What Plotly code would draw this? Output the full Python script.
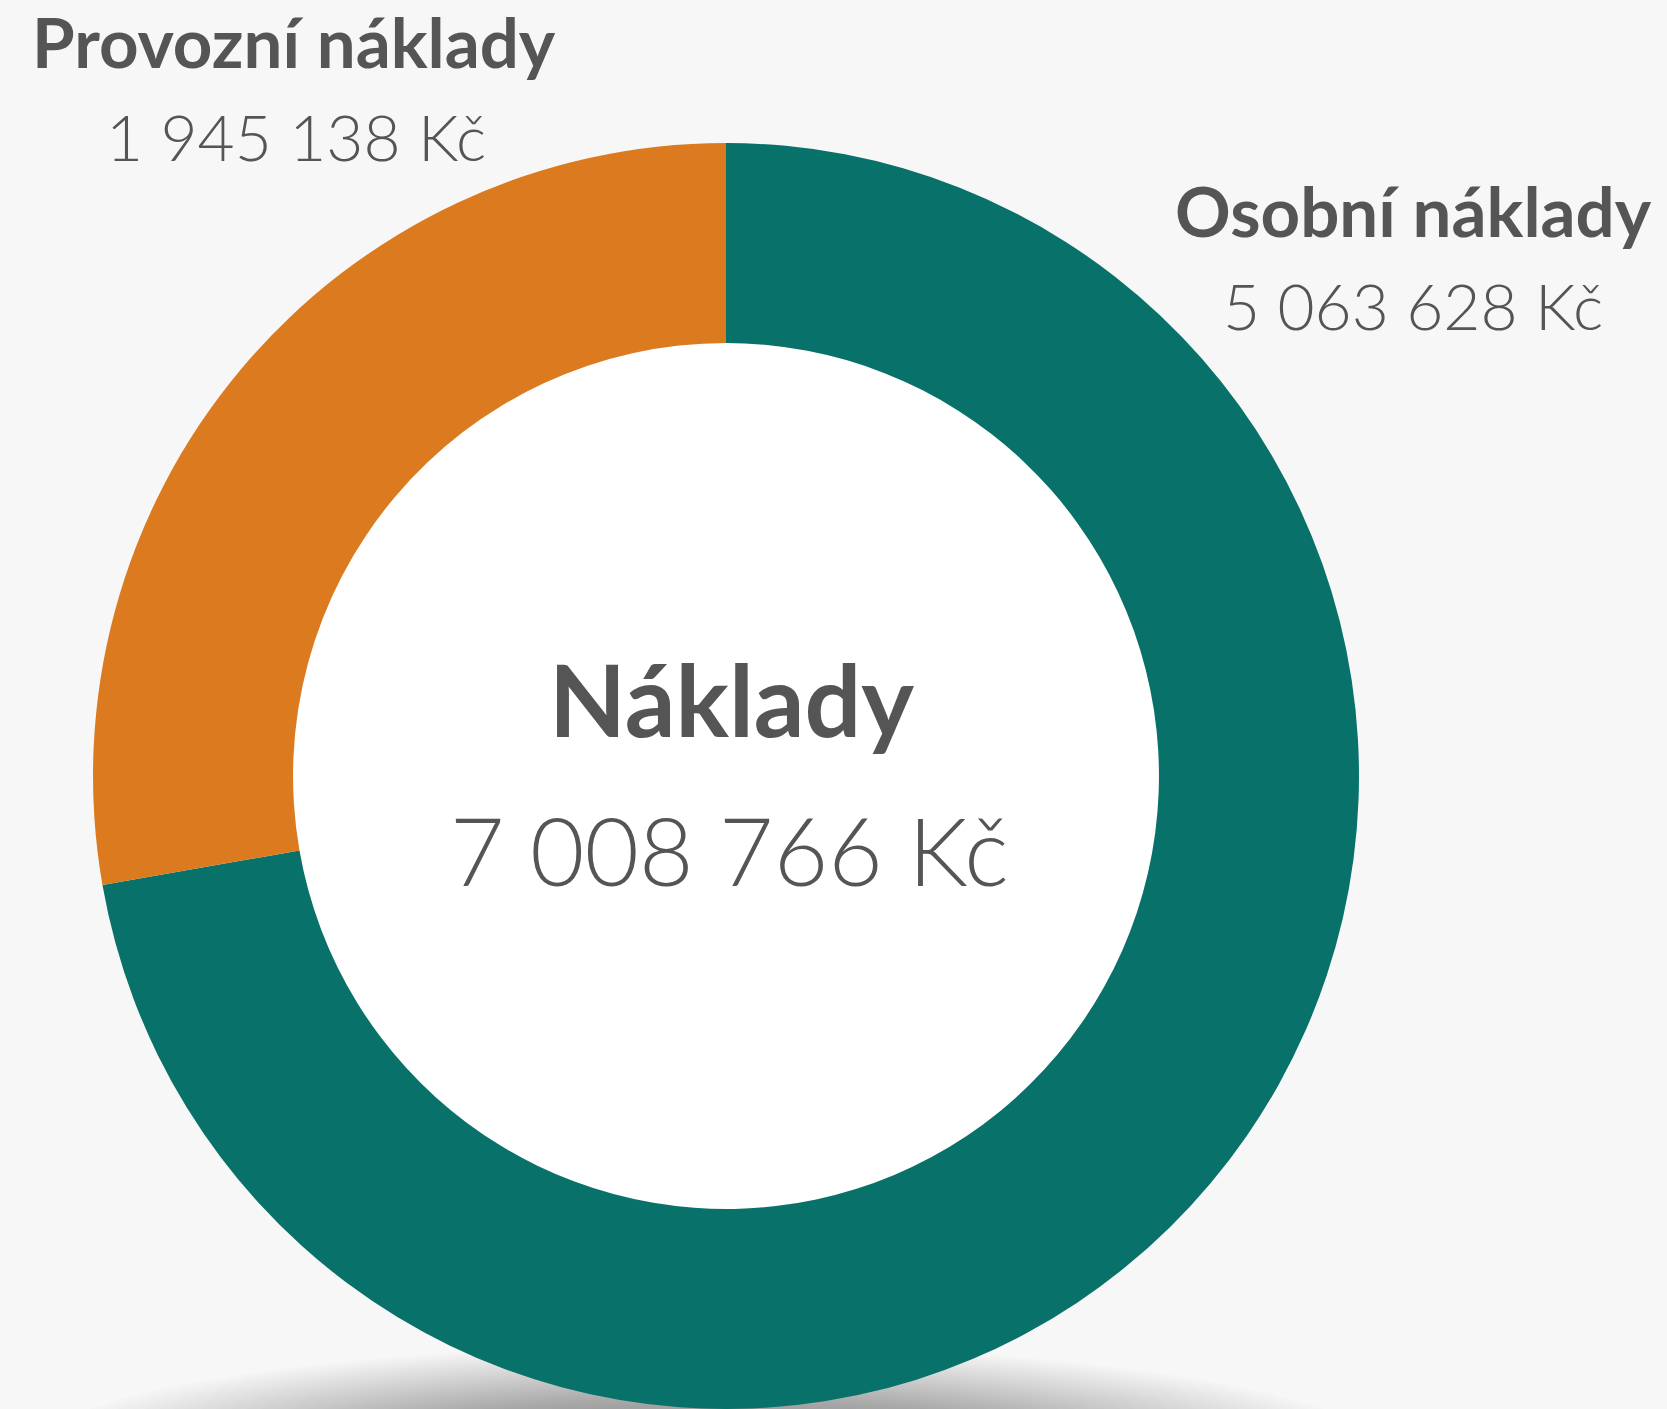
import plotly.graph_objects as go

# ---- data ----
labels = ["Osobní náklady", "Provozní náklady"]
values = [5063628, 1945138]
colors = ["#08726a", "#dc7a20"]
center_title = "Náklady"

def fmt(v):
    return f"{v:,}".replace(",", " ") + " Kč"

total = sum(values)

# ---- geometry (pixels) ----
W, H = 1667, 1409
cx, cy, R = 726, 776, 633
hole = 0.684

def px(x):
    return x / W

def py(y):
    return 1 - y / H

fig = go.Figure()
fig.add_trace(go.Pie(
    labels=labels, values=values, sort=False, direction="clockwise",
    rotation=0, hole=hole, marker=dict(colors=colors, line=dict(width=0)),
    textinfo="none", hoverinfo="label+value", showlegend=False,
    domain=dict(x=[px(cx - R), px(cx + R)], y=[0, py(cy - R)]),
))

shapes = []
# soft shadow below donut (stacked translucent ellipses)
n = 30
for i in range(n):
    t = i / (n - 1)
    rx = 680 - 360 * t
    ry = 110 - 60 * t
    scy = 1455
    shapes.append(dict(type="circle", xref="paper", yref="paper", layer="below",
                       x0=px(cx - 20 - rx), x1=px(cx - 20 + rx), y0=py(scy + ry), y1=py(scy - ry),
                       fillcolor="rgba(0,0,0,0.011)", line=dict(width=0)))
# white hole
rh = R * hole
shapes.append(dict(type="circle", xref="paper", yref="paper", layer="below",
                   x0=px(cx - rh), x1=px(cx + rh), y0=py(cy + rh), y1=py(cy - rh),
                   fillcolor="white", line=dict(width=0)))

TXT = "#555555"
FONT = "Lato"
ann = []
def add(text, x, y, size, weight):
    ann.append(dict(text=text, x=px(x), y=py(y), xref="paper", yref="paper",
                    xanchor="center", yanchor="middle", showarrow=False,
                    font=dict(family=FONT, size=size, color=TXT, weight=weight)))

add(labels[1], 294, 42, 69, 700)
add(fmt(values[1]), 296, 137, 64, 300)
add(labels[0], 1413, 211, 69, 700)
add(fmt(values[0]), 1413, 305, 64, 300)
add(center_title, 731, 698, 100, 700)
add(fmt(total), 729, 849, 94, 300)

fig.update_layout(
    width=W, height=H, margin=dict(l=0, r=0, t=0, b=0),
    paper_bgcolor="#f7f7f7", plot_bgcolor="#f7f7f7",
    shapes=shapes, annotations=ann,
)
fig.write_html("out.html", config={"displayModeBar": False},
               post_script="document.body.style.margin='0';document.body.style.background='#f7f7f7';")
